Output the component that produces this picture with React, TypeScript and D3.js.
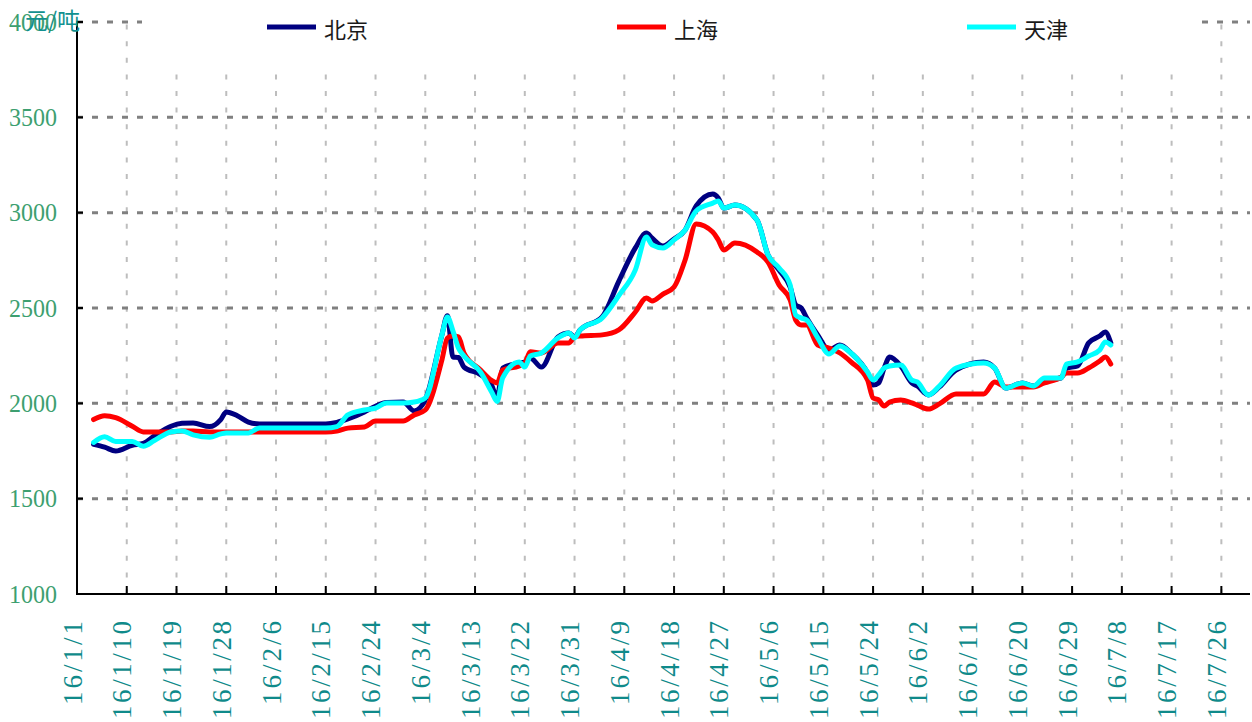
import * as d3 from 'd3'

// 日期（2016）
const dates = [
  '2016-01-04', '2016-01-06', '2016-01-08', '2016-01-11', '2016-01-13', '2016-01-15', '2016-01-18', '2016-01-20',
  '2016-01-22', '2016-01-25', '2016-01-27', '2016-01-28', '2016-01-30', '2016-02-01', '2016-02-03', '2016-02-08',
  '2016-02-15', '2016-02-17', '2016-02-19', '2016-02-22', '2016-02-24', '2016-02-26', '2016-02-29', '2016-03-02',
  '2016-03-04', '2016-03-07', '2016-03-08', '2016-03-09', '2016-03-10', '2016-03-11', '2016-03-14', '2016-03-16',
  '2016-03-17', '2016-03-18', '2016-03-21', '2016-03-22', '2016-03-23', '2016-03-25', '2016-03-28', '2016-03-30',
  '2016-03-31', '2016-04-01', '2016-04-05', '2016-04-08', '2016-04-11', '2016-04-13', '2016-04-14', '2016-04-16',
  '2016-04-18', '2016-04-20', '2016-04-22', '2016-04-25', '2016-04-26', '2016-04-27', '2016-04-29', '2016-05-03',
  '2016-05-05', '2016-05-07', '2016-05-09', '2016-05-10', '2016-05-11', '2016-05-12', '2016-05-14', '2016-05-16',
  '2016-05-18', '2016-05-20', '2016-05-23', '2016-05-24', '2016-05-25', '2016-05-26', '2016-05-27', '2016-05-29',
  '2016-05-31', '2016-06-01', '2016-06-03', '2016-06-05', '2016-06-08', '2016-06-13', '2016-06-15', '2016-06-17',
  '2016-06-20', '2016-06-22', '2016-06-24', '2016-06-27', '2016-06-28', '2016-06-30', '2016-07-02', '2016-07-04',
  '2016-07-05', '2016-07-06',
]

const beijing = [
  1785, 1770, 1750, 1780, 1790, 1830, 1880, 1895, 1897, 1878, 1915, 1955, 1935, 1902, 1892, 1892,
  1892, 1900, 1918, 1955, 1985, 2005, 2007, 1960, 2018, 2358, 2460, 2243, 2240, 2190, 2150, 2095,
  2030, 2185, 2211, 2217, 2238, 2190, 2348, 2369, 2348, 2385, 2453, 2640, 2815, 2893, 2867, 2825,
  2862, 2909, 3035, 3098, 3077, 3024, 3040, 2962, 2778, 2699, 2610, 2516, 2500, 2448, 2358, 2280,
  2306, 2264, 2159, 2096, 2107, 2185, 2243, 2196, 2107, 2091, 2044, 2086, 2175, 2217, 2185, 2080,
  2107, 2091, 2122, 2133, 2185, 2196, 2317, 2353, 2374, 2317,
]

const shanghai = [
  1915, 1935, 1925, 1880, 1850, 1850, 1850, 1855, 1855, 1850, 1850, 1850, 1850, 1850, 1850, 1850,
  1850, 1855, 1870, 1876, 1907, 1907, 1907, 1939, 1965, 2227, 2343, 2353, 2348, 2264, 2175, 2120,
  2107, 2175, 2196, 2211, 2270, 2264, 2317, 2317, 2348, 2353, 2359, 2385, 2479, 2553, 2537, 2573,
  2610, 2752, 2941, 2899, 2857, 2804, 2841, 2794, 2741, 2621, 2542, 2437, 2411, 2411, 2306, 2290,
  2264, 2217, 2122, 2028, 2018, 1986, 2007, 2018, 2002, 1991, 1970, 1997, 2049, 2049, 2112, 2086,
  2086, 2086, 2107, 2138, 2159, 2159, 2185, 2222, 2243, 2206,
]

const tianjin = [
  1795, 1825, 1800, 1800, 1775, 1805, 1850, 1855, 1835, 1822, 1840, 1845, 1845, 1845, 1870, 1870,
  1870, 1878, 1939, 1965, 1975, 2002, 2002, 2007, 2028, 2358, 2453, 2380, 2290, 2248, 2164, 2060,
  2010, 2133, 2217, 2190, 2248, 2264, 2343, 2369, 2343, 2385, 2448, 2565, 2700, 2873, 2831, 2815,
  2857, 2909, 3009, 3050, 3061, 3024, 3040, 2962, 2778, 2710, 2621, 2463, 2448, 2437, 2343, 2259,
  2301, 2264, 2164, 2122, 2149, 2185, 2196, 2201, 2122, 2112, 2044, 2091, 2185, 2211, 2185, 2080,
  2107, 2091, 2133, 2133, 2206, 2217, 2248, 2280, 2322, 2306,
]

const seriesNames = ['北京', '上海', '天津']
const seriesColors = ['#000080', '#ff0000', '#00ffff']

const xTickDates = [
  '2016-01-01', '2016-01-10', '2016-01-19', '2016-01-28', '2016-02-06', '2016-02-15', '2016-02-24', '2016-03-04',
  '2016-03-13', '2016-03-22', '2016-03-31', '2016-04-09', '2016-04-18', '2016-04-27', '2016-05-06', '2016-05-15',
  '2016-05-24', '2016-06-02', '2016-06-11', '2016-06-20', '2016-06-29', '2016-07-08', '2016-07-17', '2016-07-26',
]
const yTicks = [1000, 1500, 2000, 2500, 3000, 3500, 4000]

const W = 1252
const H = 722
const left = 77
const right = 1250
const top = 22
const bottom = 594

const serifFont = "'Liberation Serif', 'DejaVu Serif', 'Times New Roman', serif"
const cjkFont = "'Noto Sans CJK SC', 'Noto Sans', sans-serif"

const parse = d3.timeParse('%Y-%m-%d')
const fmt = d3.timeFormat('%y/%-m/%-d')

export default function App() {
  const x = d3.scaleTime()
    .domain([parse('2016-01-01')!, parse('2016-07-31')!])
    .range([left, right - 1])
  const y = d3.scaleLinear().domain([1000, 4000]).range([bottom, top])

  const values = [beijing, shanghai, tianjin]
  const line = d3.line<[Date, number]>()
    .x(d => x(d[0]))
    .y(d => y(d[1]))
    .curve(d3.curveMonotoneX)

  const ticks = xTickDates.map(s => parse(s)!)
  const legendX = [267, 617, 967]

  return (
    <svg width={W} height={H} style={{ position: 'absolute', left: 0, top: 0, background: '#fff' }}>
      {/* 竖网格 */}
      {ticks.slice(1).map((t, i) => (
        <line key={'v' + i} x1={x(t)} x2={x(t)} y1={bottom} y2={top}
          stroke="#bdbdbd" strokeWidth={2} strokeDasharray="5 11.6" />
      ))}
      {/* 横网格 */}
      {yTicks.slice(1).map(v => (
        <line key={'h' + v} x1={left} x2={right} y1={y(v)} y2={y(v)}
          stroke="#808080" strokeWidth={3} strokeDasharray="6 9" />
      ))}

      {/* 图例底 */}
      <rect x={142} y={0} width={1055} height={63} fill="#fff" />

      {/* 轴 */}
      <line x1={left} x2={left} y1={top - 1} y2={bottom + 1} stroke="#000" strokeWidth={2} />
      <line x1={left - 1} x2={right} y1={bottom} y2={bottom} stroke="#000" strokeWidth={2} />
      {yTicks.map(v => (
        <line key={'yt' + v} x1={left} x2={left + 6} y1={y(v)} y2={y(v)} stroke="#000" strokeWidth={2} />
      ))}
      {ticks.map((t, i) => (
        <line key={'xt' + i} x1={x(t)} x2={x(t)} y1={bottom} y2={bottom - 8} stroke="#000" strokeWidth={2} />
      ))}

      {/* 数据线 */}
      {values.map((vals, k) => (
        <path key={'s' + k}
          d={line(dates.map((s, i) => [parse(s)!, vals[i]] as [Date, number]))!}
          fill="none" stroke={seriesColors[k]} strokeWidth={5}
          strokeLinejoin="round" strokeLinecap="round" />
      ))}

      {/* y 标签 */}
      {yTicks.map(v => (
        <text key={'yl' + v} x={57} y={y(v)} textAnchor="end" dominantBaseline="central"
          fontFamily={serifFont} fontSize={25} fill="#3d9f70"
          textLength={48} lengthAdjust="spacingAndGlyphs">{v}</text>
      ))}
      <text x={25} y={19} dominantBaseline="central" fontFamily={cjkFont}
        fontSize={23} fill="#129090">元/吨</text>

      {/* x 标签 */}
      {ticks.map((t, i) => {
        const label = fmt(t)
        return (
          <text key={'xl' + i} transform={`translate(${x(t) - 4.5},${621}) rotate(-90)`}
            textAnchor="end" dominantBaseline="central"
            fontFamily={serifFont} fontSize={27} fill="#0f8a8a"
            textLength={label.length * 14} lengthAdjust="spacing">{label}</text>
        )
      })}

      {/* 图例 */}
      {seriesNames.map((n, k) => (
        <g key={'lg' + k}>
          <line x1={legendX[k]} x2={legendX[k] + 49} y1={27} y2={27} stroke={seriesColors[k]} strokeWidth={5} />
          <text x={legendX[k] + 57} y={28} dominantBaseline="central"
            fontFamily={cjkFont} fontSize={22} fill="#1a1a1a">{n}</text>
        </g>
      ))}
    </svg>
  )
}
